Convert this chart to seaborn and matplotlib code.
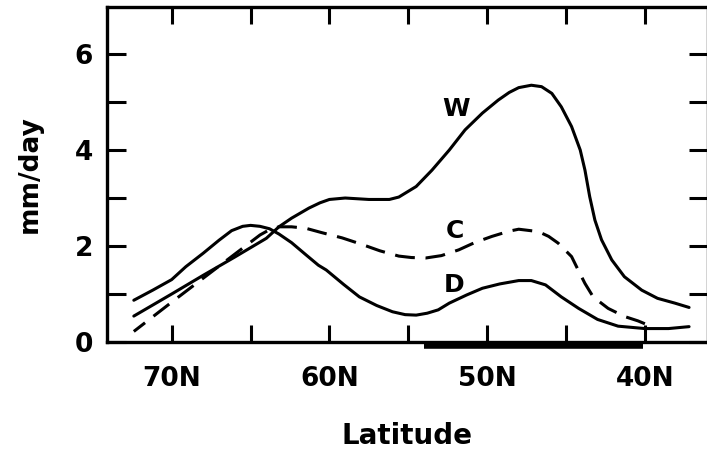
import matplotlib
matplotlib.use("Agg")
import matplotlib.pyplot as plt
import seaborn as sns
import pandas as pd
from matplotlib.ticker import MultipleLocator, FixedLocator

# ---------------- data ----------------
w_lat = [72.4, 70, 68, 66, 64.0, 63.2, 62.4, 61.3, 60.6, 60.0, 59.0, 57.5, 56.2, 55.6,
         54.5, 53.5, 52.4, 51.4, 50.3, 49.3, 48.6, 48.0, 47.2, 46.55, 45.9, 45.3,
         44.65, 44.1, 43.8, 43.5, 43.17, 42.75, 42.1, 41.3, 40.2, 39.2, 38.1, 37.2]
w_val = [0.54, 1.00, 1.39, 1.77, 2.16, 2.40, 2.58, 2.79, 2.90, 2.97, 3.00, 2.97, 2.97, 3.02,
         3.24, 3.58, 4.00, 4.42, 4.77, 5.04, 5.20, 5.30, 5.35, 5.32, 5.18, 4.90,
         4.49, 4.00, 3.58, 3.03, 2.54, 2.13, 1.71, 1.36, 1.08, 0.91, 0.81, 0.72]

c_lat = [72.4, 70, 68, 66, 64.4, 63.8, 63.2, 62.4, 61.5, 60.5, 59.2, 58.0, 56.8, 55.6,
         54.8, 53.9, 52.9, 51.8, 50.8, 49.7, 48.6, 48.0, 46.75, 46.1, 45.5, 44.65,
         44.23, 43.8, 43.28, 42.33, 41.28, 40.44, 40.0]
c_val = [0.22, 0.83, 1.33, 1.83, 2.23, 2.34, 2.40, 2.40, 2.37, 2.28, 2.17, 2.04, 1.90, 1.79,
         1.76, 1.75, 1.80, 1.92, 2.07, 2.20, 2.31, 2.35, 2.30, 2.20, 2.06, 1.78,
         1.50, 1.22, 0.94, 0.70, 0.53, 0.44, 0.38]

d_lat = [72.4, 71.2, 70.0, 69.1, 68.0, 67.0, 66.2, 65.5, 65.0, 64.4, 63.8, 63.2, 62.4,
         61.5, 60.7, 60.2, 59.1, 58.1, 57.0, 56.0, 55.2, 54.5, 53.8, 53.1, 52.4, 51.3,
         50.3, 49.2, 48.0, 47.2, 46.3, 45.3, 44.2, 43.0, 41.7, 40.0, 38.5, 37.2]
d_val = [0.87, 1.08, 1.30, 1.57, 1.85, 2.12, 2.32, 2.41, 2.43, 2.41, 2.36, 2.25, 2.07,
         1.82, 1.60, 1.50, 1.20, 0.94, 0.76, 0.63, 0.57, 0.56, 0.60, 0.67, 0.81, 0.98,
         1.12, 1.21, 1.28, 1.28, 1.19, 0.94, 0.70, 0.47, 0.33, 0.28, 0.28, 0.32]

series_names = ["W", "C", "D"]
label_lat = [51.96, 52.07, 52.07]
label_val = [4.85, 2.31, 1.19]

x_ticks = [70, 65, 60, 55, 50, 45, 40]
x_ticklabels = ["70N", "", "60N", "", "50N", "", "40N"]
y_major = [0, 2, 4, 6]
y_ticklabels = ["0", "2", "4", "6"]
bar_lat = [54.0, 40.1]

# ---------------- plot ----------------
sns.set_style("ticks")
plt.rcParams["font.family"] = ["DejaVu Sans"]
plt.rcParams["font.weight"] = "bold"
plt.rcParams["text.color"] = "black"
plt.rcParams["axes.labelcolor"] = "black"
plt.rcParams["xtick.color"] = "black"
plt.rcParams["ytick.color"] = "black"

fig = plt.figure(figsize=(7.07, 4.57), dpi=100)
ax = fig.add_axes([107 / 707, (457 - 342) / 457, 601 / 707, 335 / 457])

dfw = pd.DataFrame({"lat": w_lat, "val": w_val})
dfc = pd.DataFrame({"lat": c_lat, "val": c_val})
dfd = pd.DataFrame({"lat": d_lat, "val": d_val})

lw = 2.2
sns.lineplot(data=dfw, x="lat", y="val", ax=ax, color="black", lw=lw,
             solid_joinstyle="round", solid_capstyle="round")
sns.lineplot(data=dfc, x="lat", y="val", ax=ax, color="black", lw=lw,
             linestyle=(0, (6.5, 3.5)), dash_joinstyle="round")
sns.lineplot(data=dfd, x="lat", y="val", ax=ax, color="black", lw=lw,
             solid_joinstyle="round", solid_capstyle="round")

for name, lx, ly in zip(series_names, label_lat, label_val):
    ax.text(lx, ly, name, ha="center", va="center", fontsize=18,
            fontweight="bold", color="black")

# thick bar under the axis
ax.plot(bar_lat, [-0.012, -0.012], transform=ax.get_xaxis_transform(),
        color="black", lw=4, solid_capstyle="butt", clip_on=False)

ax.set_xlim(74.1, 36.0)
ax.set_ylim(0, 6.98)

ax.xaxis.set_major_locator(FixedLocator(x_ticks))
ax.set_xticklabels(x_ticklabels)
ax.yaxis.set_major_locator(FixedLocator(y_major))
ax.set_yticklabels(y_ticklabels)
ax.yaxis.set_minor_locator(MultipleLocator(1))

for s in ax.spines.values():
    s.set_linewidth(2.4)
    s.set_color("black")

ax.tick_params(axis="x", which="major", direction="in", top=True, bottom=True,
               length=12, width=2.2, labelsize=19, pad=17, colors="black")
ax.tick_params(axis="y", which="both", direction="in", left=True, right=True,
               length=14, width=2.2, labelsize=19, pad=10, colors="black")

for t in ax.get_xticklabels() + ax.get_yticklabels():
    t.set_fontweight("bold")

ax.set_xlabel("Latitude", fontsize=20, fontweight="bold", labelpad=22, color="black")
ax.set_ylabel("mm/day", fontsize=19, fontweight="bold", labelpad=23, color="black")

fig.savefig("out.png", dpi=100)
